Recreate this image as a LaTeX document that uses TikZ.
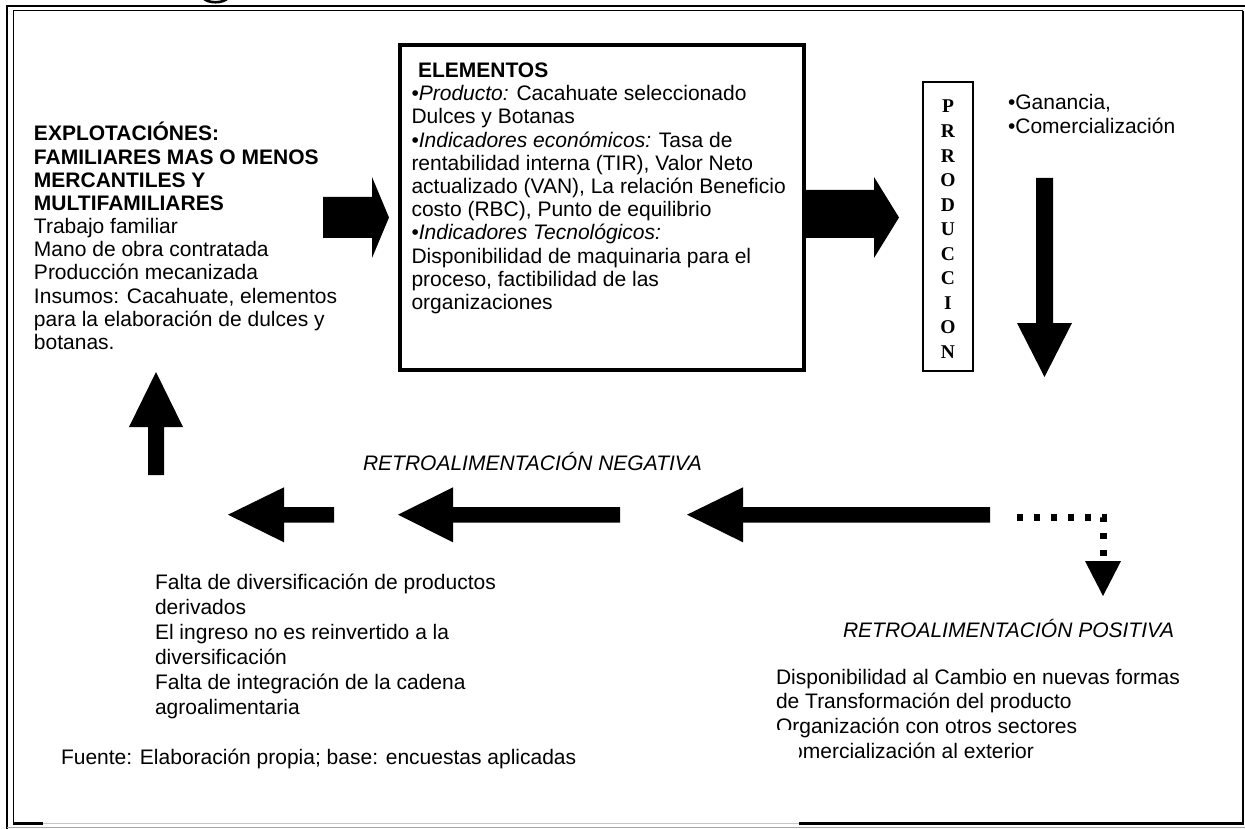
\documentclass[tikz,border=0pt]{standalone}
\usepackage{fontspec}
\setmainfont{Liberation Sans}
\newfontfamily\prodfont{Liberation Serif}
\newcommand\fsz{\fontsize{21}{23}\selectfont}
\newcommand\myLeftArrow[3]{\fill[blk] (#1,514.7) -- (#2,487.3) -- (#2,507) -- (#3,507) -- (#3,522.7) -- (#2,522.7) -- (#2,542.3) -- cycle;}
\begin{document}
\begin{tikzpicture}[x=1pt,y=-1pt,
  txt/.style={anchor=base west,inner sep=0pt,outer sep=0pt,font=\fsz},
  blk/.style={fill=black,draw=none},
  letter/.style={anchor=base,inner sep=0pt,font=\prodfont\bfseries\fontsize{19.5}{20}\selectfont}]
\useasboundingbox (0,0) rectangle (1245,829);
\fill[white] (0,0) rectangle (1245,829);

% cut-off fragment at the top
\begin{scope}
\clip (0,0) rectangle (1245,3.6);
\draw[line width=2.6] (203,-3) .. controls (205,4) and (226,4) .. (228,-3);
\end{scope}

% frame
\draw[line width=2.4] (7.2,829) -- (7.2,5.8) -- (1245,5.8);
\draw[line width=1.6] (13.3,823.5) -- (13.3,10.6) -- (1243.2,10.6);
\draw[line width=2.2] (1243.2,10.6) -- (1243.2,823.5);
\draw[line width=2.6] (13.3,823.5) -- (1244.3,823.5);
\draw[gray!70,line width=1] (7,827.9) -- (1245,827.9);

% left block
\foreach \mytext [count=\i from 0] in {{\textbf{EXPLOTACIÓNES:}},{\textbf{FAMILIARES MAS O MENOS}},{\textbf{MERCANTILES Y}},{\textbf{MULTIFAMILIARES}},{Trabajo familiar},{Mano de obra contratada},{Producción mecanizada},{Insumos: Cacahuate, elementos},{para la elaboración de dulces y},{botanas.}}
  \node[txt] (L\i) at (34,{141+23.15*\i}) {\mytext};

% elements box
\node[draw,line width=4,minimum width=404,minimum height=325,inner sep=0pt] (elem) at (602,207.5) {};
\node[txt] (E0) at (418,77.5) {\textbf{ELEMENTOS}};
\foreach \mytext [count=\i] in {{•\textit{Producto:} Cacahuate seleccionado},{Dulces y Botanas},{•\textit{Indicadores económicos:} Tasa de},{rentabilidad interna (TIR), Valor Neto},{actualizado (VAN), La relación Beneficio},{costo (RBC), Punto de equilibrio},{•\textit{Indicadores Tecnológicos:}},{Disponibilidad de maquinaria para el},{proceso, factibilidad de las},{organizaciones}}
  \node[txt] (E\i) at (411.5,{77.5+23.2*\i}) {\mytext};

% production box
\node[draw,line width=1.5,minimum width=50,minimum height=289,inner sep=0pt] (prod) at (948,226.5) {};
\foreach \c [count=\i from 0] in {P,R,R,O,D,U,C,C,I,O,N}
  \node[letter] (P\i) at (948,{113+24.55*\i}) {\c};

% results
\node[txt] (G1) at (1008,110) {•Ganancia,};
\node[txt] (G2) at (1008,133.5) {•Comercialización};

% block arrows
\fill[blk] (323,197) -- (372,197) -- (372,177) -- (389,217.5) -- (372,258) -- (372,238) -- (323,238) -- cycle;
\fill[blk] (806,190) -- (874,190) -- (874,177) -- (899,217.5) -- (874,258) -- (874,238) -- (806,238) -- cycle;
\fill[blk] (1036,178) -- (1053,178) -- (1053,323) -- (1072,323) -- (1044.5,377) -- (1017,323) -- (1036,323) -- cycle;
\fill[blk] (148,475) -- (164,475) -- (164,427) -- (183,427) -- (156,372) -- (129,427) -- (148,427) -- cycle;
\myLeftArrow{228}{284}{334}
\myLeftArrow{398}{453}{620}
\myLeftArrow{687}{743}{990}

% dotted arrow
\draw[line width=7,dash pattern=on 6 off 11] (1017,517) -- (1103,517) -- (1103,557);
\fill[blk] (1085,561) -- (1121,561) -- (1103,596) -- cycle;

% feedback titles
\node[txt] (neg) at (363,470) {\textit{RETROALIMENTACIÓN NEGATIVA}};
\node[txt] (pos) at (843,637) {\textit{RETROALIMENTACIÓN POSITIVA}};

% negative feedback text
\foreach \mytext [count=\i from 0] in {{Falta de diversificación de productos},{derivados},{El ingreso no es reinvertido a la},{diversificación},{Falta de integración de la cadena},{agroalimentaria}}
  \node[txt] (N\i) at (155,{589+25*\i}) {\mytext};

% positive feedback text
\foreach \mytext [count=\i from 0] in {{Disponibilidad al Cambio en nuevas formas},{de Transformación del producto},{Organización con otros sectores},{Comercialización al exterior}}
  \node[txt] (Q\i) at (776,{684+24.67*\i}) {\mytext};

% source box (white) covering part of the frame and text
\fill[white] (43,730) rectangle (799,825.2);
\draw[gray!45,line width=0.8] (43,823.8) -- (799,823.8);
\node[txt] (src) at (61,764) {Fuente: Elaboración propia; base: encuestas aplicadas};
\end{tikzpicture}
\end{document}
